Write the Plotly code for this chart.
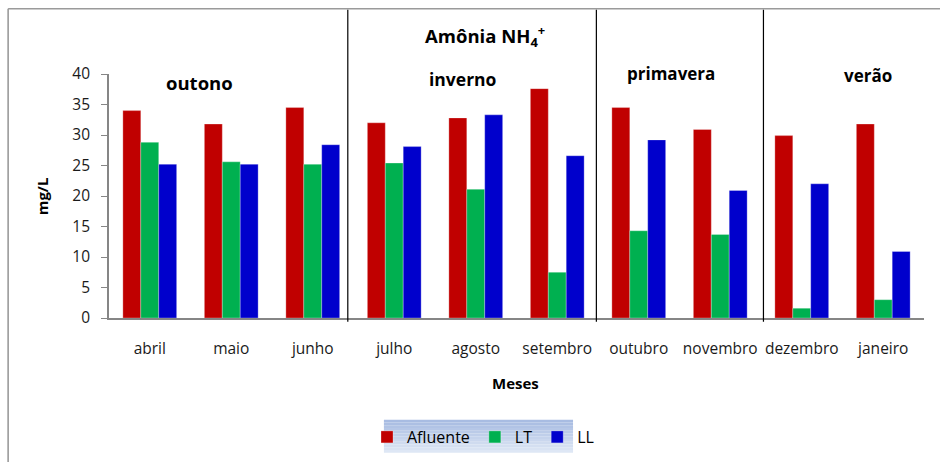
import plotly.graph_objects as go

meses = ["abril", "maio", "junho", "julho", "agosto", "setembro",
         "outubro", "novembro", "dezembro", "janeiro"]
afluente = [34.0, 31.8, 34.5, 32.0, 32.8, 37.6, 34.5, 30.9, 29.9, 31.8]
lt = [28.8, 25.6, 25.2, 25.4, 21.1, 7.5, 14.3, 13.7, 1.6, 3.0]
ll = [25.2, 25.2, 28.4, 28.1, 33.3, 26.6, 29.2, 20.9, 22.0, 10.9]
estacoes = ["outono", "inverno", "primavera", "verão"]
separadores = [2.43, 5.48, 7.53]
y_ticks = [0, 5, 10, 15, 20, 25, 30, 35, 40]

W, H = 940, 462
L, R, T, B = 109.3, 923.7, 74.3, 318.3

def px(x):
    return (x - L) / (R - L)

def py(y):
    return (B - y) / (B - T)

FONT = "Open Sans"
fig = go.Figure()
for name, vals, col in [("Afluente", afluente, "#C00000"),
                        ("LT", lt, "#00B050"),
                        ("LL", ll, "#0000CC")]:
    fig.add_trace(go.Bar(x=meses, y=vals, name=name, marker_color=col,
                         marker_line=dict(color="rgba(255,255,255,0.35)", width=0.8)))

shapes = []
# legend gradient background
lx0, lx1, ly0, ly1 = 384, 573, 420, 453
n = 12
for i in range(n):
    t = i / (n - 1)
    r = int(168 + (222 - 168) * t)
    g = int(188 + (231 - 188) * t)
    b = int(226 + (245 - 226) * t)
    y0 = ly0 + (ly1 - ly0) * i / n
    y1 = ly0 + (ly1 - ly0) * (i + 1) / n
    shapes.append(dict(type="rect", xref="paper", yref="paper",
                       x0=px(lx0), x1=px(lx1), y0=py(y1), y1=py(y0),
                       fillcolor=f"rgb({r},{g},{b})", line=dict(width=0), layer="below"))
# outer frame (top and left)
shapes.append(dict(type="line", xref="paper", yref="paper", x0=px(8.5), x1=px(945),
                   y0=py(9), y1=py(9), line=dict(color="#9A9A9A", width=1.6)))
shapes.append(dict(type="line", xref="paper", yref="paper", x0=px(8.5), x1=px(8.5),
                   y0=py(9), y1=py(470), line=dict(color="#9A9A9A", width=1.6)))
# season separators
for s in separadores:
    shapes.append(dict(type="line", xref="x", yref="paper", x0=s, x1=s,
                       y0=py(322), y1=py(10), line=dict(color="black", width=1.2)))

def note(text, x, y, size, angle=0):
    return dict(text=text, x=px(x), y=py(y), xref="paper", yref="paper",
                xanchor="center", yanchor="middle", showarrow=False, textangle=angle,
                font=dict(family=FONT, size=size, color="black"))

ann = [note("<b>Amônia NH<sub>4</sub><sup>+</sup></b>", 485, 36, 18.5)]
for lab, (x, y), sz in zip(estacoes, [(200, 83), (463, 79), (671, 73.5), (868, 76)],
                           [18.5, 17.5, 17, 17]):
    ann.append(note(f"<b>{lab}</b>", x, y, sz))
ann.append(note("<b>Meses</b>", 516, 383, 15))
ann.append(note("<b>mg/L</b>", 42, 197, 15, -90))

fig.update_layout(
    width=W, height=H,
    margin=dict(l=L, r=W - R, t=T, b=H - B, pad=0, autoexpand=False),
    paper_bgcolor="white", plot_bgcolor="white",
    barmode="group", bargap=0.34, bargroupgap=0,
    font=dict(family=FONT, size=15, color="#1a1a1a"),
    shapes=shapes, annotations=ann,
    legend=dict(orientation="h", xref="container", yref="container",
                x=483 / W, y=1 - 437 / H, xanchor="center", yanchor="middle",
                bgcolor="rgba(0,0,0,0)", font=dict(family=FONT, size=16, color="black"),
                itemwidth=30, tracegroupgap=0),
    xaxis=dict(range=[-0.5, 9.5], showline=True, linecolor="#868686", linewidth=1.6,
               ticks="", ticklabelstandoff=16, showgrid=False, zeroline=False,
               tickfont=dict(family=FONT, size=15.5, color="#1a1a1a")),
    yaxis=dict(range=[0, 40], tickvals=y_ticks, showline=True, linecolor="#868686",
               linewidth=1.6, ticks="outside", ticklen=6, tickcolor="#868686",
               tickwidth=1.2, showgrid=False, zeroline=False, ticklabelstandoff=8,
               tickfont=dict(family=FONT, size=15.5, color="#1a1a1a")),
)

fig.write_html("out.html", config={"displayModeBar": False},
               post_script="document.body.style.margin='0';")
